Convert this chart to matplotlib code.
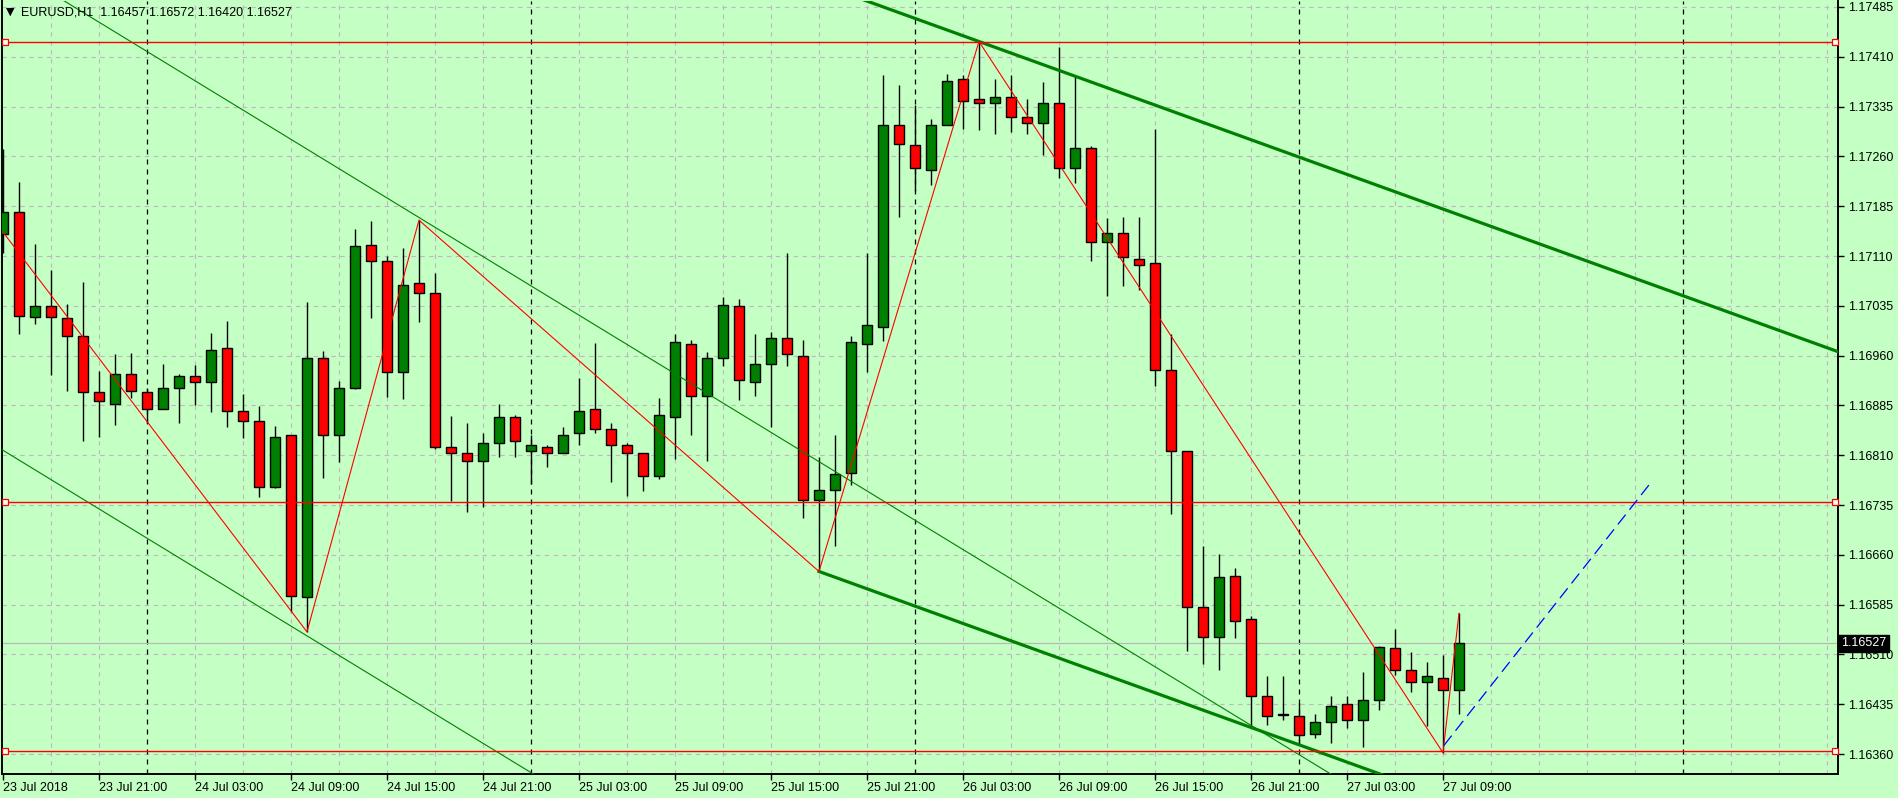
import numpy as np
import matplotlib.pyplot as plt

plt.rcParams['font.family'] = ['Liberation Sans', 'DejaVu Sans']

# EURUSD H1 bars, index 0 = 23 Jul 2018 15:00 ... index 91 = 27 Jul 2018 10:00
opens = [1.17143, 1.17177, 1.17018, 1.17034, 1.17016, 1.16989, 1.16905, 1.16887, 1.16932, 1.16905,
         1.16880, 1.16911, 1.16930, 1.16921, 1.16971, 1.16877, 1.16862, 1.16762, 1.16840, 1.16596,
         1.16957, 1.16840, 1.16911, 1.17126, 1.17103, 1.16936, 1.17069, 1.17055, 1.16823, 1.16813,
         1.16802, 1.16828, 1.16868, 1.16816, 1.16823, 1.16813, 1.16844, 1.16879, 1.16850, 1.16825,
         1.16813, 1.16778, 1.16868, 1.16978, 1.16899, 1.16957, 1.17034, 1.16921, 1.16948, 1.16987,
         1.16960, 1.16743, 1.16757, 1.16783, 1.16978, 1.17003, 1.17308, 1.17277, 1.17240, 1.17308,
         1.17376, 1.17346, 1.17341, 1.17350, 1.17320, 1.17311, 1.17340, 1.17243, 1.17272, 1.17131,
         1.17144, 1.17106, 1.17099, 1.16938, 1.16816, 1.16582, 1.16536, 1.16628, 1.16563, 1.16447,
         1.16419, 1.16417, 1.16390, 1.16409, 1.16435, 1.16412, 1.16441, 1.16519, 1.16487, 1.16469,
         1.16475, 1.16457]
highs = [1.17271, 1.17221, 1.17128, 1.17089, 1.17038, 1.17071, 1.16937, 1.16962, 1.16964, 1.16911,
         1.16947, 1.16933, 1.16946, 1.16994, 1.17012, 1.16902, 1.16884, 1.16854, 1.16840, 1.17041,
         1.16967, 1.16922, 1.17151, 1.17163, 1.17110, 1.17122, 1.17164, 1.17084, 1.16869, 1.16858,
         1.16843, 1.16887, 1.16871, 1.16841, 1.16826, 1.16853, 1.16926, 1.16979, 1.16858, 1.16828,
         1.16813, 1.16896, 1.16992, 1.16983, 1.16966, 1.17048, 1.17046, 1.16993, 1.16996, 1.17115,
         1.16984, 1.16808, 1.16841, 1.16990, 1.17115, 1.17382, 1.17367, 1.17337, 1.17317, 1.17384,
         1.17382, 1.17433, 1.17376, 1.17382, 1.17346, 1.17372, 1.17425, 1.17381, 1.17275, 1.17167,
         1.17168, 1.17168, 1.17302, 1.16993, 1.16816, 1.16673, 1.16662, 1.16640, 1.16568, 1.16477,
         1.16478, 1.16437, 1.16420, 1.16447, 1.16447, 1.16483, 1.16522, 1.16549, 1.16513, 1.16498,
         1.16509, 1.16572]
lows = [1.17115, 1.16992, 1.17008, 1.16931, 1.16907, 1.16832, 1.16838, 1.16856, 1.16896, 1.16858,
        1.16880, 1.16859, 1.16885, 1.16875, 1.16853, 1.16836, 1.16747, 1.16761, 1.16574, 1.16544,
        1.16776, 1.16800, 1.16909, 1.17017, 1.16898, 1.16895, 1.17011, 1.16820, 1.16741, 1.16725,
        1.16732, 1.16807, 1.16808, 1.16766, 1.16792, 1.16813, 1.16825, 1.16844, 1.16770, 1.16749,
        1.16756, 1.16774, 1.16805, 1.16841, 1.16802, 1.16945, 1.16893, 1.16899, 1.16853, 1.16944,
        1.16715, 1.16635, 1.16673, 1.16765, 1.16936, 1.16982, 1.17169, 1.17208, 1.17217, 1.17308,
        1.17302, 1.17299, 1.17293, 1.17296, 1.17294, 1.17262, 1.17228, 1.17220, 1.17103, 1.17050,
        1.17065, 1.17059, 1.16915, 1.16722, 1.16515, 1.16496, 1.16487, 1.16535, 1.16399, 1.16404,
        1.16412, 1.16373, 1.16384, 1.16376, 1.16399, 1.16371, 1.16426, 1.16479, 1.16454, 1.16402,
        1.16362, 1.16420]
closes = [1.17176, 1.17020, 1.17034, 1.17018, 1.16990, 1.16905, 1.16891, 1.16933, 1.16906, 1.16880,
          1.16911, 1.16930, 1.16920, 1.16969, 1.16877, 1.16862, 1.16762, 1.16838, 1.16598, 1.16957,
          1.16840, 1.16912, 1.17125, 1.17103, 1.16936, 1.17067, 1.17054, 1.16823, 1.16814, 1.16802,
          1.16829, 1.16867, 1.16832, 1.16826, 1.16813, 1.16841, 1.16877, 1.16850, 1.16825, 1.16814,
          1.16778, 1.16870, 1.16980, 1.16899, 1.16957, 1.17036, 1.16923, 1.16948, 1.16987, 1.16962,
          1.16742, 1.16758, 1.16781, 1.16981, 1.17006, 1.17307, 1.17278, 1.17243, 1.17308, 1.17374,
          1.17344, 1.17341, 1.17350, 1.17319, 1.17310, 1.17340, 1.17243, 1.17272, 1.17131, 1.17144,
          1.17108, 1.17097, 1.16939, 1.16817, 1.16582, 1.16536, 1.16626, 1.16560, 1.16447, 1.16417,
          1.16419, 1.16388, 1.16409, 1.16433, 1.16412, 1.16441, 1.16521, 1.16486, 1.16469, 1.16477,
          1.16456, 1.16527]

time_labels = ['23 Jul 2018', '23 Jul 21:00', '24 Jul 03:00', '24 Jul 09:00', '24 Jul 15:00',
               '24 Jul 21:00', '25 Jul 03:00', '25 Jul 09:00', '25 Jul 15:00', '25 Jul 21:00',
               '26 Jul 03:00', '26 Jul 09:00', '26 Jul 15:00', '26 Jul 21:00', '27 Jul 03:00',
               '27 Jul 09:00']
day_starts = [9, 33, 57, 81, 105]

# drawn objects
zigzag_x = [0, 19, 26, 51, 61, 90, 91]
zigzag_y = [1.17146, 1.16544, 1.17164, 1.16635, 1.17433, 1.16362, 1.16572]
levels = [1.17433, 1.16740, 1.16365]
thin_slope = -0.00014706
thin_upper = (26, 1.17168)
thin_lower = (19, 1.16538)
thick_slope = -0.00008699
thick_lower = (51, 1.16635)
thick_upper = (61, 1.17433)
proj_x = [90.06, 102.9]
proj_y = [1.16373, 1.16766]
bid = 1.16527

bg = '#C4FFC4'
W, H = 1898, 798
fig = plt.figure(figsize=(W / 100, H / 100), dpi=100, facecolor=bg)
ax = fig.add_axes([2 / W, (H - 774) / H, 1836 / W, 773 / H], facecolor=bg)

x_lo, x_hi = -0.0625, 114.69
y_lo, y_hi = 1.16330, 1.17494
ax.set_xlim(x_lo, x_hi)
ax.set_ylim(y_lo, y_hi)

yticks = [1.16360 + 0.00075 * k for k in range(16)]
grid_kw = dict(color='#C3B6C3', lw=0.8, ls=(0, (4, 4)), zorder=0)
for yv in yticks:
    ax.axhline(yv, **grid_kw)
for xv in range(3, 115, 3):
    if xv not in day_starts:
        ax.axvline(xv, **grid_kw)
for d in day_starts:
    ax.axvline(d, color='black', lw=0.9, ls=(0, (4, 4)), zorder=0.5)

ax.axhline(bid, color='#B8B8B8', lw=0.9, zorder=0.8)

# candles
idx = np.arange(len(opens))
o = np.array(opens)
c = np.array(closes)
ax.vlines(idx, lows, highs, color='black', lw=1.0, zorder=2)
colors = ['#008000' if cc > oo else '#FF0000' if cc < oo else 'black' for oo, cc in zip(o, c)]
bottoms = np.minimum(o, c)
heights = np.maximum(np.abs(c - o), 0.000012)
ax.bar(idx, heights, bottom=bottoms, width=0.64, color=colors, edgecolor='black',
       linewidth=1.0, zorder=3)

# channels
xs = np.array([-2, 120])
ax.plot(xs, thin_upper[1] + thin_slope * (xs - thin_upper[0]), color='#008000', lw=0.8, zorder=4)
ax.plot(xs, thin_lower[1] + thin_slope * (xs - thin_lower[0]), color='#008000', lw=0.8, zorder=4)
xr = np.array([thick_lower[0], 120])
ax.plot(xr, thick_lower[1] + thick_slope * (xr - thick_lower[0]), color='#008000', lw=2.3, zorder=4)
ax.plot(xr, thick_upper[1] + thick_slope * (xr - thick_upper[0]), color='#008000', lw=2.3, zorder=4)

# zigzag, levels, projection
ax.plot(zigzag_x, zigzag_y, color='red', lw=0.8, zorder=5)
for lv in levels:
    ax.axhline(lv, color='red', lw=1.0, zorder=5)
    ax.plot([0.15, 114.5], [lv, lv], ls='none', marker='s', ms=4, mfc='white', mec='red',
            mew=0.9, zorder=6, clip_on=False)
ax.plot(proj_x, proj_y, color='#0000FF', lw=0.9, ls=(0, (10, 5)), zorder=5)

# axes styling
for side in ['left', 'right', 'bottom']:
    ax.spines[side].set_color('black')
    ax.spines[side].set_linewidth(1.4)
ax.spines['top'].set_visible(False)

ax.yaxis.tick_right()
ax.set_yticks(yticks)
ax.set_yticklabels([f'{v:.5f}' for v in yticks])
ax.set_xticks(range(0, 91, 6))
ax.set_xticklabels(time_labels, ha='left')
ax.tick_params(axis='both', direction='out', length=4, width=1, colors='black',
               labelsize=9, pad=2)
ax.tick_params(axis='y', pad=3)

# bid price label
ax.annotate(f'{bid:.5f}', xy=(1, bid), xycoords=('axes fraction', 'data'),
            xytext=(2, 0), textcoords='offset points', va='center', ha='left',
            color='white', fontsize=9,
            bbox=dict(boxstyle='square,pad=0.2', fc='black', ec='black'),
            zorder=10, annotation_clip=False)

# header
fig.text(10 / W, 1 - 12 / H, '\u25BC', fontsize=8, va='center', ha='center', family='DejaVu Sans')
fig.text(21 / W, 1 - 12.5 / H, 'EURUSD,H1  1.16457 1.16572 1.16420 1.16527', fontsize=9,
         va='center', ha='left', color='black')

fig.savefig('out.png', dpi=100, facecolor=bg)
